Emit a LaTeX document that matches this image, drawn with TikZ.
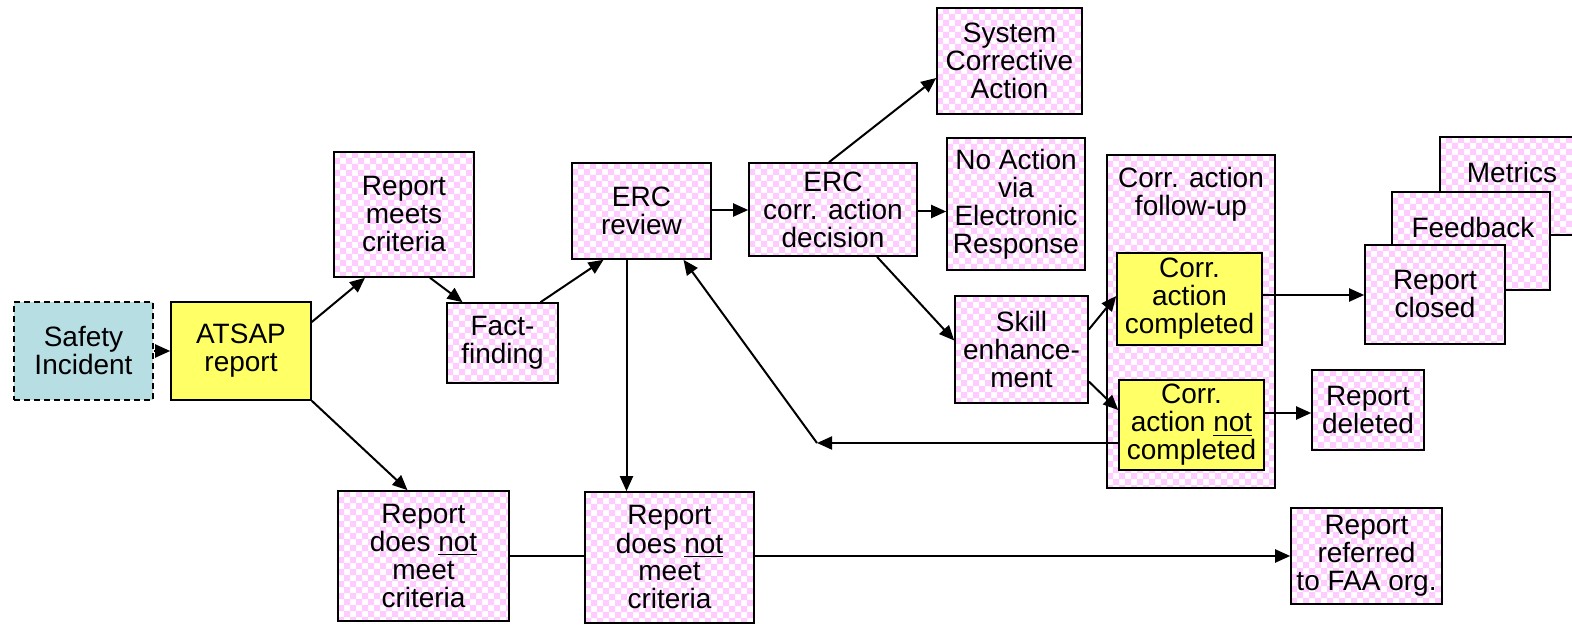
\documentclass[tikz,border=0pt]{standalone}
\usepackage{fontspec}
\setmainfont{Liberation Sans}
\usetikzlibrary{calc,arrows.meta}
\definecolor{pinkc}{HTML}{FFCCFF}
\definecolor{ylw}{HTML}{FFFF66}
\definecolor{blu}{HTML}{B7DEE3}
\tikzset{
  txt/.style={align=center, inner sep=0pt, font=\fontsize{14}{14}\selectfont},
  box/.style={txt, draw=black, line width=0.8pt},
  ybox/.style={txt, draw=black, line width=0.8pt, fill=ylw},
  sbox/.style={txt, draw=black, line width=0.8pt, fill=blu, dash pattern=on 3pt off 2pt},
  arr/.style={-{Triangle[length=7.5pt,width=6.5pt]}, line width=1pt},
  ln/.style={line width=1pt}
}
% checkered pink box: name, x1, y1, x2, y2 (px), text
\newcommand\chkbox[6]{%
  \begin{scope}
    \clip (#2,#3) rectangle (#4,#5);
    \fill[white] (#2,#3) rectangle (#4,#5);
    \fill[pinkc, even odd rule]
      \foreach \k in {0,12,...,180} {({#2+\k},#3) rectangle ++(6,{#5-#3})}
      \foreach \k in {0,12,...,336} {(#2,{#3+\k}) rectangle ++({#4-#2},6)};
  \end{scope}
  \node[box, minimum width={(#4-#2)*0.5pt}, minimum height={(#5-#3)*0.5pt}] (#1) at ({(#2+#4)/2},{(#3+#5)/2}) {#6};
}
\begin{document}
\begin{tikzpicture}[x=0.5pt,y=-0.5pt]
\useasboundingbox (0,0) rectangle (1572,625);
\clip (0,0) rectangle (1572,625);
% nodes
\node[sbox, minimum width=69.5pt, minimum height=49pt] (si) at (83.5,351) {Safety\\Incident};
\node[ybox, minimum width=70pt, minimum height=49pt] (atsap) at (241,351) {ATSAP\\report};
\chkbox{meets}{334}{152}{474}{277}{Report\\meets\\criteria}
\chkbox{fact}{447}{303}{558}{383}{Fact-\\finding}
\chkbox{review}{572}{163}{711}{259}{ERC\\review}
\chkbox{decision}{749}{163}{917}{256}{ERC\\corr. action\\decision}
\chkbox{sca}{937}{8}{1082}{114}{System\\Corrective\\Action}
\chkbox{noact}{947}{138}{1085}{270}{No Action\\via\\Electronic\\Response}
\chkbox{skill}{955}{296}{1088}{403}{Skill\\enhance-\\ment}
\chkbox{follow}{1107}{155}{1275}{488}{}
\node[txt] (followt) at (1191,194) {Corr. action\\follow-up};
\node[ybox, minimum width=72.5pt, minimum height=46pt] (done) at (1189.5,299) {Corr.\\action\\completed};
\node[ybox, minimum width=72.5pt, minimum height=45pt] (notdone) at (1191.5,425) {Corr.\\action \underline{not}\\completed};
\chkbox{metrics}{1440}{137}{1584}{235}{}
\node[txt] (metricst) at (1512,172) {Metrics};
\chkbox{feedback}{1392}{192}{1550}{290}{}
\node[txt] (feedbackt) at (1473,227) {Feedback};
\chkbox{closed}{1365}{245}{1505}{344}{Report\\closed}
\chkbox{deleted}{1312}{370}{1424}{450}{Report\\deleted}
\chkbox{dnm1}{338}{491}{509}{621}{Report\\does \underline{not}\\meet\\criteria}
\chkbox{dnm2}{585}{492}{754}{623}{Report\\does \underline{not}\\meet\\criteria}
\chkbox{faa}{1291}{508}{1442}{604}{Report\\referred\\to FAA org.}
% helper coordinates
\coordinate (ret) at (817,443);
\coordinate (p5) at ($(review.east)+(0,-1)$);
\coordinate (p7) at ($(decision.east)+(0,2)$);
\coordinate (p11) at ($(done.east)+(0,-4)$);
\coordinate (p12) at ($(notdone.east)+(0,-12)$);
\coordinate (p15) at ($(review.south)+(-15,0)$);
% connectors
\draw[arr] (si) -- (atsap);
\draw[arr] ($(atsap.east)+(0,-29)$) -- ($(meets.south)+(-39,0)$);
\draw[arr] ($(meets.south)+(26,0)$) -- ($(fact.north)+(-40,0)$);
\draw[arr] ($(fact.north)+(38,0)$) -- ($(review.south)+(-38,0)$);
\draw[arr] (p5) -- (p5 -| decision.west);
\draw[arr] ($(decision.north)+(-4,0)$) -- ($(sca.west)+(0,17)$);
\draw[arr] (p7) -- (p7 -| noact.west);
\draw[arr] ($(decision.south)+(44,0)$) -- ($(skill.west)+(0,-9)$);
\draw[arr] ($(skill.east)+(0,-20)$) -- ($(done.west)+(0,-3)$);
\draw[arr] ($(skill.east)+(0,32)$) -- ($(notdone.west)+(0,-15)$);
\draw[arr] (p11) -- (p11 -| closed.west);
\draw[arr] (p12) -- (p12 -| deleted.west);
\draw[arr] ($(notdone.west)+(0,18)$) -- (ret);
\draw[arr] (ret) -- ($(review.south)+(42,0)$);
\draw[arr] (p15) -- (p15 |- dnm2.north);
\draw[arr] (atsap.south east) -- ($(dnm1.north)+(-16,0)$);
\draw[ln] (dnm1.east) -- (dnm1.east -| dnm2.west);
\draw[arr] (dnm2.east |- faa.west) -- (faa.west);
\end{tikzpicture}
\end{document}
